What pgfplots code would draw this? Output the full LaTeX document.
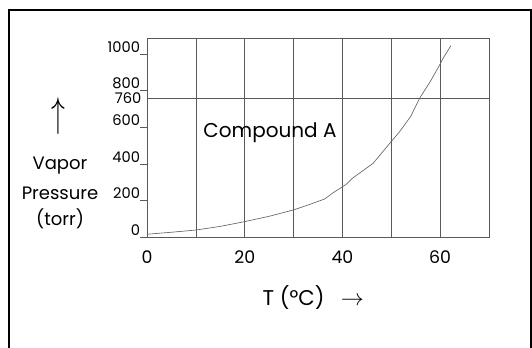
\documentclass[border=0pt]{standalone}
\usepackage{pgfplots}
\pgfplotsset{compat=1.18}
\usepackage{fontspec}
\setmainfont{Poppins}
\begin{document}
\begin{tikzpicture}[x=0.75pt,y=0.75pt]
\useasboundingbox (0,0) rectangle (532,347);
\draw[line width=1.5pt] (8.5,337) rectangle (530.5,-20);
\begin{axis}[
  at={(110.25pt,82.5pt)}, anchor=south west,
  scale only axis, width=256.5pt, height=149.25pt,
  xmin=0, xmax=70, ymin=0, ymax=1087,
  axis line style={gray!70!black, line width=0.5pt},
  xtick={0,20,40,60}, minor xtick={10,30,50},
  xmajorgrids, xminorgrids,
  major grid style={gray!70!black, line width=0.5pt},
  minor grid style={gray!70!black, line width=0.5pt},
  major x tick style={draw=none}, minor x tick style={draw=none},
  ytick={0,200,400,600,800,1000},
  tick align=outside, ytick pos=left, xtick pos=bottom,
  major tick length=5pt,
  y tick style={gray!70!black, line width=0.4pt},
  yticklabel style={font=\fontsize{11}{13}\selectfont, anchor=south east, inner sep=1pt, xshift=1pt},
  xticklabel style={font=\fontsize{13}{15}\selectfont, yshift=-2pt},
  /pgf/number format/assume math mode=true,
  /pgf/number format/1000 sep={},
  extra y ticks={760}, extra y tick labels={760},
  extra y tick style={grid=major, major tick length=0pt,
     yticklabel style={anchor=east, xshift=-4pt}},
  clip=false,
]
\addplot[gray!80!black, line width=0.5pt] coordinates {
(0,15) (5,26) (10,38) (15,58) (20,84) (25,113) (30,148) (33,175) (36.4,208)
(38,240) (40.8,288) (42,320) (46.3,403) (49.7,512) (51.7,575) (54,660)
(55.8,758) (58,850) (59.9,940) (60.6,976) (62.2,1045)};
\end{axis}
\node[font=\fontsize{20}{22}\selectfont] at (58,231) {\scalebox{1}[1.5]{$\uparrow$}};
\node[font=\fontsize{13.5}{15}\selectfont] at (60,181) {Vapor};
\node[font=\fontsize{13.5}{15}\selectfont] at (60,154) {Pressure};
\node[font=\fontsize{13.5}{15}\selectfont] at (60,128) {(torr)};
\node[font=\fontsize{15}{17}\selectfont] at (270,214) {Compound A};
\node[font=\fontsize{16}{18}\selectfont, anchor=west] at (258,49) {T (°C)\,\,\, $\rightarrow$};
\end{tikzpicture}
\end{document}
